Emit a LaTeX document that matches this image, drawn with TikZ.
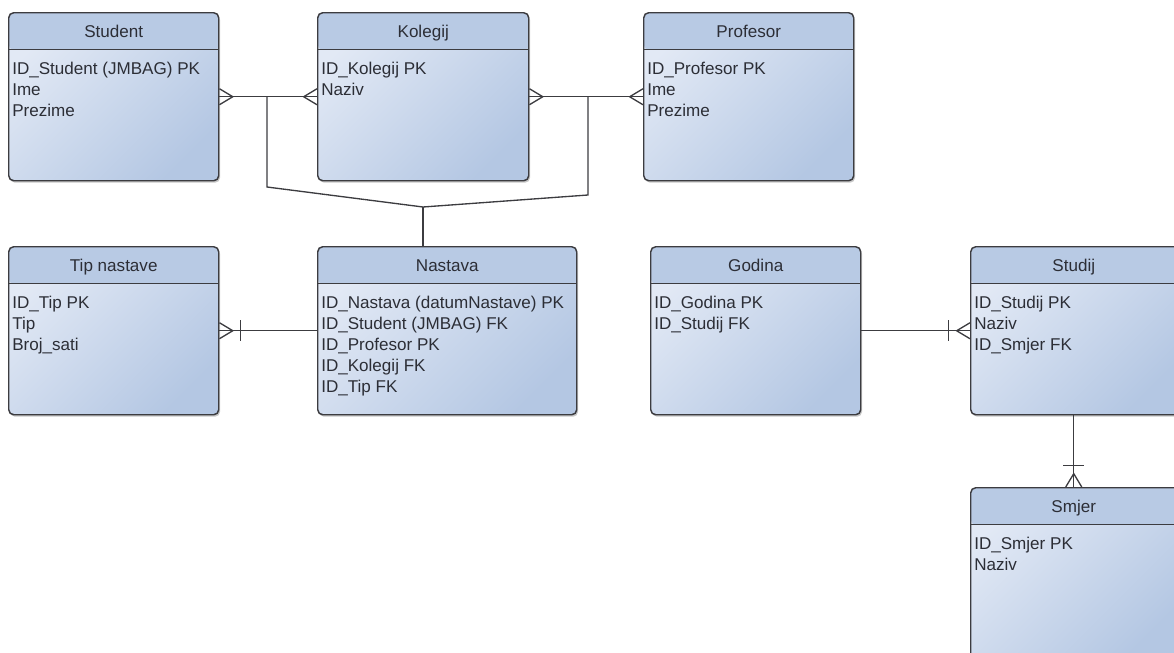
\documentclass[tikz,border=0pt]{standalone}
\usepackage{fontspec}
\setmainfont{Liberation Sans}
\usetikzlibrary{shadows}

\definecolor{hdrblue}{RGB}{184,202,228}
\definecolor{bodytop}{RGB}{226,233,245}
\definecolor{bodybot}{RGB}{180,199,227}
\definecolor{edgegray}{RGB}{60,60,64}
\definecolor{txtgray}{RGB}{44,46,54}

% crow's feet and bars
\newcommand{\manyE}[1]{\draw[rel] ([yshift=6pt]#1) -- ([xshift=10pt]#1) -- ([yshift=-6pt]#1);}
\newcommand{\manyW}[1]{\draw[rel] ([yshift=6pt]#1) -- ([xshift=-10pt]#1) -- ([yshift=-6pt]#1);}
\newcommand{\manyN}[1]{\draw[rel] ([xshift=-6pt]#1) -- ([yshift=10pt]#1) -- ([xshift=6pt]#1);}
\newcommand{\oneE}[1]{\draw[rel] ([xshift=16pt, yshift=8pt]#1) -- ([xshift=16pt, yshift=-8pt]#1);}
\newcommand{\oneW}[1]{\draw[rel] ([xshift=-16pt, yshift=8pt]#1) -- ([xshift=-16pt, yshift=-8pt]#1);}
\newcommand{\oneN}[1]{\draw[rel] ([xshift=-8pt, yshift=16pt]#1) -- ([xshift=8pt, yshift=16pt]#1);}

\begin{document}
\begin{tikzpicture}[x=0.75pt, y=-0.75pt,
    entity/.style 2 args={draw=edgegray, line width=1.1pt, rounded corners=3.75pt,
      anchor=north west, inner sep=0pt,
      minimum width=#1*0.75pt, minimum height=#2*0.75pt,
      top color=bodytop, bottom color=bodybot, shading angle=45,
      drop shadow={shadow xshift=1pt, shadow yshift=-1.5pt, fill=black, opacity=0.22},
      path picture={
        \fill[hdrblue] (path picture bounding box.north west) rectangle ([yshift=-27.75pt]path picture bounding box.north east);
        \draw[edgegray, line width=1.1pt] ([yshift=-27.75pt]path picture bounding box.north west) -- ([yshift=-27.75pt]path picture bounding box.north east);
      }},
    title/.style={anchor=base, inner sep=0pt, text=txtgray, font=\fontsize{12.8}{15.75}\selectfont},
    attrs/.style={anchor=north west, align=left, inner sep=0pt, text=txtgray, font=\fontsize{12.8}{15.75}\selectfont},
    rel/.style={draw=edgegray, line width=1pt}]
  \clip (0,0) rectangle (1174,653);

  % entities
  \node[entity={210}{168}] (student) at (8,12) {};
  \node[entity={211}{168}] (kolegij) at (317,12) {};
  \node[entity={210}{168}] (profesor) at (643,12) {};
  \node[entity={210}{168}] (tip) at (8,246) {};
  \node[entity={259}{168}] (nastava) at (317,246) {};
  \node[entity={210}{168}] (godina) at (650,246) {};
  \node[entity={210}{168}] (studij) at (970,246) {};
  \node[entity={210}{172}] (smjer) at (970,487) {};

  \node[title] (student-t) at ([yshift=-19.1pt]student.north) {Student};
  \node[title] (kolegij-t) at ([yshift=-19.1pt]kolegij.north) {Kolegij};
  \node[title] (profesor-t) at ([yshift=-19.1pt]profesor.north) {Profesor};
  \node[title] (tip-t) at ([yshift=-19.1pt]tip.north) {Tip nastave};
  \node[title] (nastava-t) at ([yshift=-19.1pt]nastava.north) {Nastava};
  \node[title] (godina-t) at ([yshift=-19.1pt]godina.north) {Godina};
  \node[title] (studij-t) at ([xshift=-1.5pt, yshift=-19.1pt]studij.north) {Studij};
  \node[title] (smjer-t) at ([xshift=-1.5pt, yshift=-19.1pt]smjer.north) {Smjer};

  \node[attrs] (student-a) at ([xshift=3pt, yshift=-37.5pt]student.north west) {ID\_Student (JMBAG) PK\\Ime\\Prezime};
  \node[attrs] (kolegij-a) at ([xshift=3pt, yshift=-37.5pt]kolegij.north west) {ID\_Kolegij PK\\Naziv};
  \node[attrs] (profesor-a) at ([xshift=3pt, yshift=-37.5pt]profesor.north west) {ID\_Profesor PK\\Ime\\Prezime};
  \node[attrs] (tip-a) at ([xshift=3pt, yshift=-37.5pt]tip.north west) {ID\_Tip PK\\Tip\\Broj\_sati};
  \node[attrs] (nastava-a) at ([xshift=3pt, yshift=-37.5pt]nastava.north west) {ID\_Nastava (datumNastave) PK\\ID\_Student (JMBAG) FK\\ID\_Profesor PK\\ID\_Kolegij FK\\ID\_Tip FK};
  \node[attrs] (godina-a) at ([xshift=3pt, yshift=-37.5pt]godina.north west) {ID\_Godina PK\\ID\_Studij FK};
  \node[attrs] (studij-a) at ([xshift=3pt, yshift=-37.5pt]studij.north west) {ID\_Studij PK\\Naziv\\ID\_Smjer FK};
  \node[attrs] (smjer-a) at ([xshift=3pt, yshift=-37.5pt]smjer.north west) {ID\_Smjer PK\\Naziv};

  % relationships
  \coordinate (sk) at (267,96);
  \coordinate (sk-b) at (267,187);
  \coordinate (kp) at (588,96);
  \coordinate (kp-b) at (588,195);
  \coordinate (j) at (423,207);

  \draw[rel] (student.east) -- (kolegij.west);
  \manyE{student.east}
  \manyW{kolegij.west}
  \draw[rel] (kolegij.east) -- (profesor.west);
  \manyE{kolegij.east}
  \manyW{profesor.west}
  \draw[rel] (sk) -- (sk-b) -- (j) -- (kp-b) -- (kp);
  \draw[rel] (j) -- (j |- nastava.north);

  \draw[rel] (tip.east) -- (nastava.west);
  \manyE{tip.east}
  \oneE{tip.east}

  \draw[rel] (godina.east) -- (studij.west);
  \manyW{studij.west}
  \oneW{studij.west}

  \draw[rel] (studij.south -| smjer-t) -- (smjer.north -| smjer-t);
  \manyN{smjer.north -| smjer-t}
  \oneN{smjer.north -| smjer-t}
\end{tikzpicture}
\end{document}
